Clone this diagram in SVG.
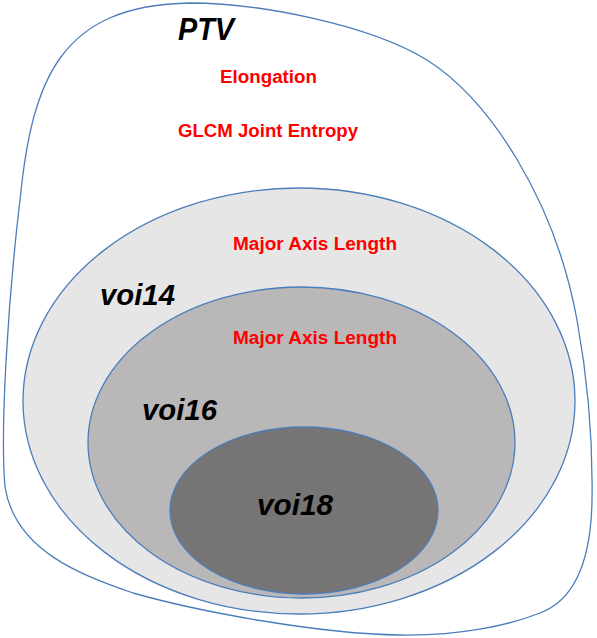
<svg xmlns="http://www.w3.org/2000/svg" width="597" height="638" viewBox="0 0 597 638">
<style>
.outline{stroke:#4a7ebb;stroke-width:1.3}
.lbl{font-family:"Liberation Sans",Arial,sans-serif;font-weight:bold;font-style:italic;fill:#000}
.feat{font-family:"Liberation Sans",Arial,sans-serif;font-weight:bold;font-size:18px;fill:#ff0000;text-anchor:middle}
</style>
<rect width="597" height="638" fill="#ffffff"/>
<g id="PTV">
<path class="outline" fill="#ffffff" d="M190,3 C260,3 370,25 427,60 C490,100 555,200 577,320 C587,375 593,440 592,500 C591,560 575,600 540,613 C510,625 460,636 400,635 C320,634 200,612 133,593 C80,575 15,550 5,487 C0,430 8,300 20,200 C32,80 60,5 190,3 Z"/>
<text class="lbl" x="178" y="40" font-size="31" textLength="56" lengthAdjust="spacingAndGlyphs">PTV</text>
<text class="feat" x="268.5" y="83" textLength="97" lengthAdjust="spacingAndGlyphs">Elongation</text>
<text class="feat" x="268" y="137" textLength="180" lengthAdjust="spacingAndGlyphs">GLCM Joint Entropy</text>
</g>
<g id="voi14">
<ellipse class="outline" fill="#e6e6e6" cx="299" cy="401" rx="276" ry="213"/>
<text class="feat" x="315" y="250" textLength="164" lengthAdjust="spacingAndGlyphs">Major Axis Length</text>
<text class="lbl" x="100" y="305" font-size="29" textLength="75" lengthAdjust="spacingAndGlyphs">voi14</text>
</g>
<g id="voi16">
<ellipse class="outline" fill="#b9b7b8" cx="301.5" cy="442.5" rx="213.5" ry="155.5"/>
<text class="feat" x="315" y="344" textLength="164" lengthAdjust="spacingAndGlyphs">Major Axis Length</text>
<text class="lbl" x="142" y="420" font-size="29" textLength="75" lengthAdjust="spacingAndGlyphs">voi16</text>
</g>
<g id="voi18">
<ellipse class="outline" fill="#767475" cx="304" cy="510.5" rx="134" ry="83.5"/>
<text class="lbl" x="257" y="515" font-size="29" textLength="76" lengthAdjust="spacingAndGlyphs">voi18</text>
</g>
<g id="connectors"></g>
</svg>
